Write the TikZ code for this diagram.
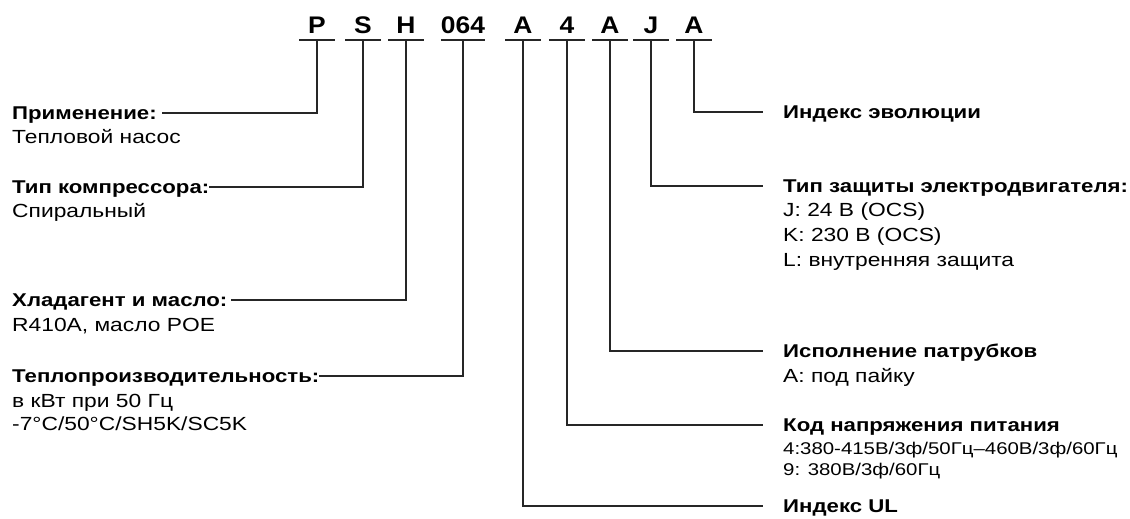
\documentclass[tikz,border=0pt]{standalone}
\usepackage{fontspec}
\setmainfont{Liberation Sans}[FakeStretch=1.2]
\newfontfamily\codefont{Liberation Sans}[FakeStretch=1.1]
\usetikzlibrary{positioning}

\tikzset{
  codeletter/.style={font=\codefont\bfseries\fontsize{24}{28}\selectfont,
    minimum width=35pt, inner sep=0pt, anchor=south,
    text height=17.2pt, text depth=6.5pt},
  head/.style={font=\bfseries\fontsize{18.5}{22}\selectfont, anchor=west,
    inner sep=0pt, text height=13.2pt, text depth=0pt},
  desc/.style={font=\fontsize{19}{22}\selectfont, anchor=west,
    inner sep=0pt, text height=13.6pt, text depth=0pt},
  descsmall/.style={font=\fontsize{17}{20}\selectfont, anchor=west,
    inner sep=0pt, text height=12.2pt, text depth=0pt},
  wire/.style={line width=1.7pt, black!85},
}

\begin{document}
\begin{tikzpicture}[x=1pt, y=-1pt]
    \useasboundingbox (0,0) rectangle (1130,519);

    % model code
    \node [codeletter] (cP) at (317,40) {P};
    \node [codeletter] (cS) at (363,40) {S};
    \node [codeletter] (cH) at (406,40) {H};
    \node [codeletter] (cCap) at (463,40) {064};
    \node [codeletter] (cUL) at (523,40) {A};
    \node [codeletter] (cVolt) at (567,40) {4};
    \node [codeletter] (cTube) at (610,40) {A};
    \node [codeletter] (cProt) at (651,40) {J};
    \node [codeletter] (cEvo) at (694,40) {A};
    \draw [wire] (cP.south west) -- (cP.south east);
    \draw [wire] (cS.south west) -- (cS.south east);
    \draw [wire] (cH.south west) -- (cH.south east);
    \draw [wire] (cCap.south west) -- (cCap.south east);
    \draw [wire] (cUL.south west) -- (cUL.south east);
    \draw [wire] (cVolt.south west) -- (cVolt.south east);
    \draw [wire] (cTube.south west) -- (cTube.south east);
    \draw [wire] (cProt.south west) -- (cProt.south east);
    \draw [wire] (cEvo.south west) -- (cEvo.south east);

    % left side
    \node [head] (app) at (12,113) {Применение:};
    \node [desc] (appd) at (12,137) {Тепловой насос};
    \node [head] (comp) at (12,187) {Тип компрессора:};
    \node [desc] (compd) at (12,211) {Спиральный};
    \node [head] (refr) at (12,300) {Хладагент и масло:};
    \node [desc] (refrd) at (12,325) {R410A, масло POE};
    \node [head] (cap) at (12,376) {Теплопроизводительность:};
    \node [desc] (capd) at (12,401) {в кВт при 50 Гц};
    \node [desc] (capc) at (12,424) {-7°C/50°C/SH5K/SC5K};

    \draw [wire] (cP.south) |- ([xshift=5pt]app.east);
    \draw [wire] (cS.south) |- (comp.east);
    \draw [wire] (cH.south) |- ([xshift=3pt]refr.east);
    \draw [wire] (cCap.south) |- (cap.east);

    % right side
    \node [head] (evo) at (783,112) {Индекс эволюции};
    \node [head] (prot) at (783,186) {Тип защиты электродвигателя:};
    \node [desc] (protj) at (783,210) {J: 24 В (OCS)};
    \node [desc] (protk) at (783,235) {K: 230 В (OCS)};
    \node [desc] (protl) at (783,260) {L: внутренняя защита};
    \node [head] (tube) at (783,351) {Исполнение патрубков};
    \node [desc] (tubea) at (783,376) {А: под пайку};
    \node [head] (volt) at (783,425) {Код напряжения питания};
    \node [descsmall] (volt4) at (783,448) {4:380-415В/3ф/50Гц–460В/3ф/60Гц};
    \node [descsmall] (volt9) at (783,469) {9: 380В/3ф/60Гц};
    \node [head] (ul) at (783,506) {Индекс UL};

    \draw [wire] (cEvo.south) |- ([xshift=-20pt]evo.west);
    \draw [wire] (cProt.south) |- ([xshift=-20pt]prot.west);
    \draw [wire] (cTube.south) |- ([xshift=-20pt]tube.west);
    \draw [wire] (cVolt.south) |- ([xshift=-20pt]volt.west);
    \draw [wire] (cUL.south) |- ([xshift=-20pt]ul.west);
\end{tikzpicture}
\end{document}
